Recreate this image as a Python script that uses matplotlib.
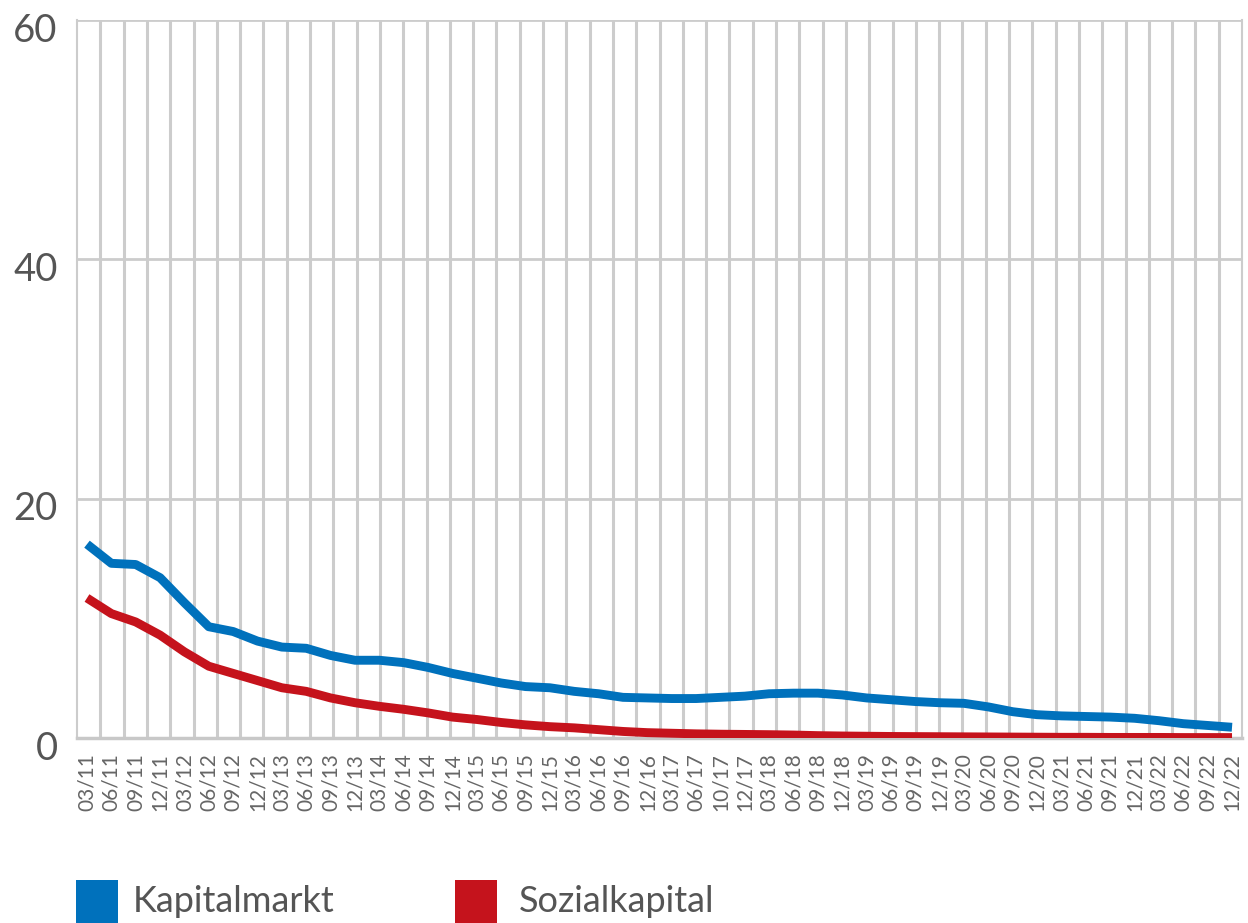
import numpy as np
import matplotlib
matplotlib.use("Agg")
import matplotlib.pyplot as plt
from matplotlib.patches import Rectangle
from matplotlib.transforms import ScaledTranslation

# --- Daten (Quartale) ---
quartale = [
    "03/11", "06/11", "09/11", "12/11", "03/12", "06/12", "09/12", "12/12",
    "03/13", "06/13", "09/13", "12/13", "03/14", "06/14", "09/14", "12/14",
    "03/15", "06/15", "09/15", "12/15", "03/16", "06/16", "09/16", "12/16",
    "03/17", "06/17", "10/17", "12/17", "03/18", "06/18", "09/18", "12/18",
    "03/19", "06/19", "09/19", "12/19", "03/20", "06/20", "09/20", "12/20",
    "03/21", "06/21", "09/21", "12/21", "03/22", "06/22", "09/22", "12/22",
]

kapitalmarkt = [
    16.2, 14.6, 14.5, 13.4, 11.3, 9.3, 8.9, 8.1,
    7.6, 7.5, 6.9, 6.5, 6.5, 6.3, 5.9, 5.4,
    5.0, 4.6, 4.3, 4.2, 3.9, 3.7, 3.4, 3.35,
    3.3, 3.3, 3.4, 3.5, 3.7, 3.75, 3.75, 3.6,
    3.35, 3.2, 3.05, 2.95, 2.9, 2.6, 2.2, 1.95,
    1.85, 1.8, 1.75, 1.65, 1.45, 1.2, 1.05, 0.9,
]

sozialkapital = [
    11.7, 10.4, 9.7, 8.6, 7.2, 6.0, 5.4, 4.8,
    4.2, 3.9, 3.35, 2.95, 2.65, 2.4, 2.1, 1.75,
    1.55, 1.3, 1.1, 0.95, 0.85, 0.7, 0.55, 0.45,
    0.4, 0.35, 0.32, 0.3, 0.28, 0.25, 0.2, 0.17,
    0.15, 0.13, 0.12, 0.11, 0.1, 0.09, 0.08, 0.07,
    0.06, 0.06, 0.05, 0.05, 0.05, 0.04, 0.04, 0.04,
]

serien = ["Kapitalmarkt", "Sozialkapital"]
farben = ["#0071bc", "#c5131c"]

GRID = "#cccccc"
TEXT = "#555555"

plt.rcParams["font.family"] = ["Lato", "DejaVu Sans"]

fig = plt.figure(figsize=(12.48, 9.23), dpi=100)
ax = fig.add_axes([0.0617, 0.2004, 0.9335, 0.7779])

x = np.arange(len(quartale))
ax.set_xlim(-0.41, len(quartale) - 1 + 0.41)
ax.set_ylim(0, 60)

# Gitter: 50 senkrechte Linien, waagerecht alle 20
xmin, xmax = ax.get_xlim()
for gx in np.linspace(xmin, xmax, 51)[1:-1]:
    ax.axvline(gx, color=GRID, lw=2.2, zorder=1)
for gy in [20, 40, 60]:
    ax.axhline(gy, color=GRID, lw=2.0, zorder=1)

ax.plot(x, kapitalmarkt, color=farben[0], lw=6.4, solid_joinstyle="round",
        solid_capstyle="butt", zorder=3)
ax.plot(x, sozialkapital, color=farben[1], lw=6.4, solid_joinstyle="round",
        solid_capstyle="butt", zorder=3)

ax.spines["top"].set_visible(False)
ax.spines["left"].set_color(GRID)
ax.spines["left"].set_linewidth(1.5)
ax.spines["right"].set_color(GRID)
ax.spines["right"].set_linewidth(1.5)
ax.spines["bottom"].set_color("#c8c8c8")
ax.spines["bottom"].set_linewidth(2.5)

ax.set_yticks([0, 20, 40, 60])
ax.tick_params(axis="y", length=0, pad=14, labelsize=27.5, labelcolor=TEXT)
ax.set_xticks(x)
ax.set_xticklabels(quartale, rotation=90)
ax.tick_params(axis="x", length=0, pad=11, labelsize=15, labelcolor="#666666")

# y-Beschriftung sitzt etwas unter der Gitterlinie
versatz = ScaledTranslation(0, -0.07, fig.dpi_scale_trans)
for lab in ax.get_yticklabels():
    lab.set_transform(lab.get_transform() + versatz)

# Legende unten (Quadrate + Text), Positionen in Pixel
H = 923.0
W = 1248.0
quadrat_x = [76, 455]
text_x = [133, 519]
for name, farbe, qx, tx in zip(serien, farben, quadrat_x, text_x):
    fig.add_artist(Rectangle((qx / W, 0), 42 / W, 43 / H, transform=fig.transFigure,
                             facecolor=farbe, edgecolor="none"))
    fig.text(tx / W, 21 / H, name, fontsize=26, color=TEXT,
             ha="left", va="center")

fig.savefig("out.png", dpi=100)
